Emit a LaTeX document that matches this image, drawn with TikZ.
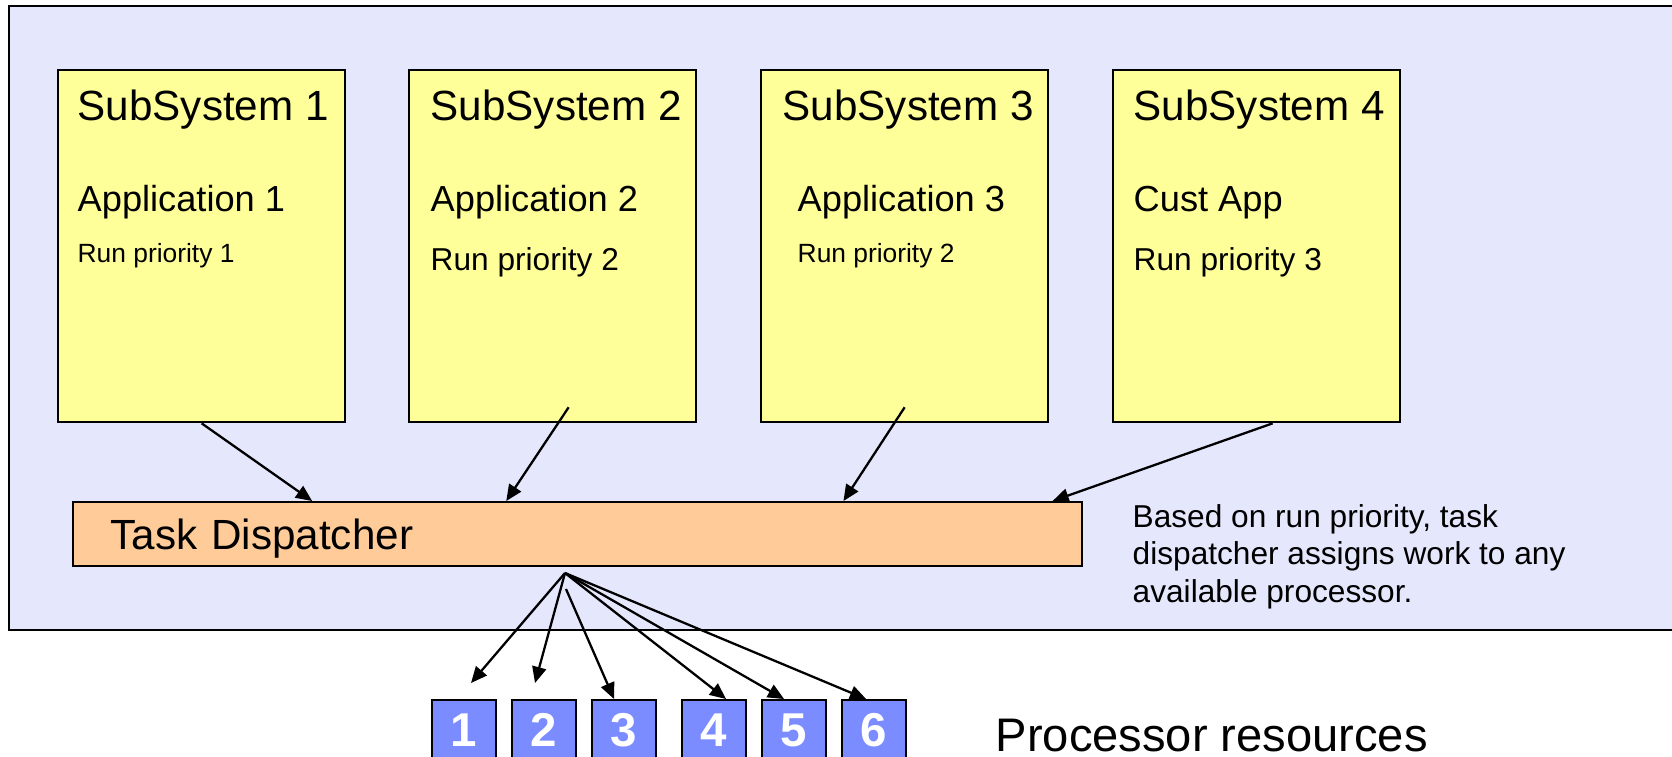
\documentclass[tikz,border=0pt]{standalone}
\usepackage{fontspec}
\setmainfont{Liberation Sans}
\usepackage{xcolor}
\usepackage{tikz}
\usetikzlibrary{arrows.meta, positioning}
\definecolor{sysbg}{RGB}{229,232,252}
\definecolor{subyellow}{RGB}{255,255,153}
\definecolor{disporange}{RGB}{255,204,153}
\definecolor{procblue}{RGB}{122,140,255}
\tikzstyle{arrow}    = [line width=0.65pt, -{Triangle[length=4.6pt, width=4pt]}]
\tikzstyle{subbox}   = [rectangle, draw, line width=0.6pt, fill=subyellow, anchor=north west, minimum width=2.87cm, minimum height=3.52cm]
\tikzstyle{proc}     = [rectangle, draw, line width=0.6pt, fill=procblue, anchor=north west, minimum width=0.64cm, minimum height=0.6cm, inner sep=0pt, text=white, font=\fontsize{13.5}{14}\selectfont\bfseries]
\tikzstyle{bigtxt}   = [anchor=base west, inner sep=0pt, font=\fontsize{12}{14}\selectfont]
\tikzstyle{apptxt}   = [anchor=base west, inner sep=0pt, font=\fontsize{10.3}{12}\selectfont]
\tikzstyle{midtxt}   = [anchor=base west, inner sep=0pt, font=\fontsize{9}{10.6}\selectfont]
\tikzstyle{smalltxt} = [anchor=base west, inner sep=0pt, font=\fontsize{7.5}{9}\selectfont]

\begin{document}
\begin{tikzpicture}[x=0.01cm, y=-0.01cm]
    \useasboundingbox (0,0) rectangle (1672,756);

    % system frame
    \node (sys) at (8,5) [anchor=north west, draw, line width=0.6pt, fill=sysbg, minimum width=16.8cm, minimum height=6.24cm] {};

    % subsystems
    \node (ss1) at (57,69)   [subbox] {};
    \node (ss2) at (408,69)  [subbox] {};
    \node (ss3) at (760,69)  [subbox] {};
    \node (ss4) at (1112,69) [subbox] {};

    \node (ss1t) at (77,120)   [bigtxt] {SubSystem 1};
    \node (ss1a) at (77,211)   [apptxt] {Application 1};
    \node (ss1r) at (77,262)   [smalltxt] {Run priority 1};

    \node (ss2t) at (430,120)  [bigtxt] {SubSystem 2};
    \node (ss2a) at (430,211)  [apptxt] {Application 2};
    \node (ss2r) at (430,270)  [midtxt] {Run priority 2};

    \node (ss3t) at (782,120)  [bigtxt] {SubSystem 3};
    \node (ss3a) at (797,211)  [apptxt] {Application 3};
    \node (ss3r) at (797,262)  [smalltxt] {Run priority 2};

    \node (ss4t) at (1133,120) [bigtxt] {SubSystem 4};
    \node (ss4a) at (1133,211) [apptxt] {Cust App};
    \node (ss4r) at (1133,270) [midtxt] {Run priority 3};

    % dispatcher
    \node (disp) at (72,501) [anchor=north west, draw, line width=0.6pt, fill=disporange, minimum width=10.08cm, minimum height=0.64cm,
          inner xsep=0.375cm, text width=9.33cm, align=left, text depth=0pt, font=\fontsize{12}{14}\selectfont] {Task Dispatcher};
    \node (note) at (1132,504) [anchor=north west, inner sep=0pt, align=left, font=\fontsize{9}{10.6}\selectfont]
          {Based on run priority, task\\dispatcher assigns work to any\\available processor.};

    % processors
    \node (p1) at (431,699) [proc] {1};
    \node (p2) at (511,699) [proc] {2};
    \node (p3) at (591,699) [proc] {3};
    \node (p4) at (681,699) [proc] {4};
    \node (p5) at (761,699) [proc] {5};
    \node (p6) at (841,699) [proc] {6};
    \node (res) at (995,751) [anchor=base west, inner sep=0pt, font=\fontsize{13.4}{16}\selectfont] {Processor resources};

    \coordinate (fan)  at (565,573);
    \coordinate (fan3) at (566,589);
    \coordinate (tip1) at (471,683);
    \coordinate (tip2) at (535,683);

    \draw [arrow] (ss1.south) -- ([xshift=2.4cm]disp.north west);
    \draw [arrow] ([xshift=0.16cm, yshift=0.16cm]ss2.south) -- ([xshift=4.34cm]disp.north west);
    \draw [arrow] ([yshift=0.16cm]ss3.south) -- ([xshift=7.71cm]disp.north west);
    \draw [arrow] ([xshift=0.16cm]ss4.south) -- ([xshift=9.8cm]disp.north west);

    \draw [arrow] (fan)  -- (tip1);
    \draw [arrow] (fan)  -- (tip2);
    \draw [arrow] (fan3) -- ([xshift=-0.1cm]p3.north);
    \draw [arrow] (fan)  -- ([xshift=0.12cm]p4.north);
    \draw [arrow] (fan)  -- ([xshift=-0.1cm]p5.north);
    \draw [arrow] (fan)  -- ([xshift=-0.08cm]p6.north);
\end{tikzpicture}
\end{document}
